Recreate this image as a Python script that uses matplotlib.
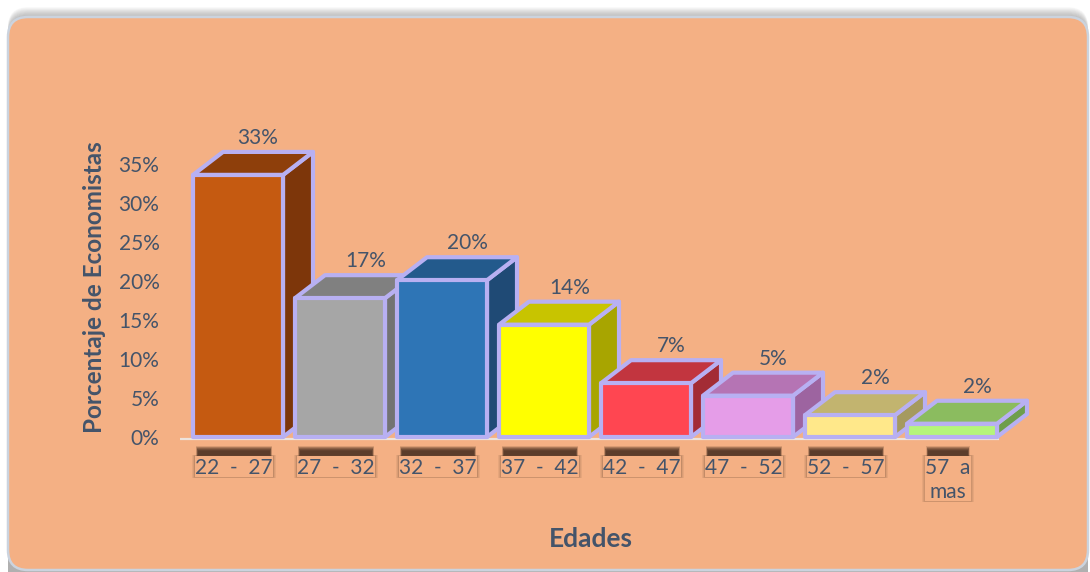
import matplotlib
matplotlib.use("Agg")
import matplotlib.pyplot as plt
from matplotlib.patches import Polygon, Rectangle, FancyBboxPatch

# ---------------- data ----------------
categories = ["22  -  27", "27  -  32", "32  -  37", "37  -  42",
              "42  -  47", "47  -  52", "52  -  57", "57  a\nmas"]
values = [33.6, 17.8, 20.1, 14.4, 6.9, 5.3, 2.8, 1.7]
value_labels = ["33%", "17%", "20%", "14%", "7%", "5%", "2%", "2%"]
yticks = [0, 5, 10, 15, 20, 25, 30, 35]
ytick_labels = ["0%", "5%", "10%", "15%", "20%", "25%", "30%", "35%"]
y_title = "Porcentaje de Economistas"
x_title = "Edades"

front_colors = ["#C55A11", "#A6A6A6", "#2E75B6", "#FFFF00",
                "#FF4651", "#E59DE8", "#FFE88A", "#B5F57A"]
top_colors = ["#8E3F0B", "#808080", "#235A8C", "#C8C400",
              "#C2353F", "#B574B4", "#C2B46F", "#8BBC5F"]
side_colors = ["#7D360A", "#737373", "#1F4A75", "#A8A500",
               "#A32C35", "#9D64A0", "#A59A5F", "#6E9E4C"]

# ---------------- style ----------------
FONT = "Lato"
TXT = "#44546A"
PANEL = "#F4B084"
OUTLINE = "#B8B0F2"
W, H = 1090, 572

fig = plt.figure(figsize=(W / 100, H / 100), dpi=100)
fig.patch.set_facecolor("white")

# background axes in pixel coordinates (origin bottom-left)
bg = fig.add_axes([0, 0, 1, 1])
bg.set_xlim(0, W)
bg.set_ylim(0, H)
bg.axis("off")

# soft shadow above panel
for k in range(14):
    bg.add_patch(FancyBboxPatch((8, -20), 1080, H - 19 + 20 + k * 0.9,
                                boxstyle="round,pad=0,rounding_size=20",
                                fc="#707070", ec="none", alpha=0.05, zorder=0))
# panel
bg.add_patch(FancyBboxPatch((8, 2), 1080, H - 19,
                            boxstyle="round,pad=0,rounding_size=20",
                            fc=PANEL, ec="#CBD3DE", lw=1.8, zorder=1))

# main axes: bar centres at 238 + 102*i px, baseline at y=437 px (from top)
step_px = 102.0
c0 = 238.0
px_per_unit = 7.8
xmin, xmax = -0.6, 7.6
top_px = 100
ax = fig.add_axes([(c0 + xmin * step_px) / W, (H - 437) / H,
                   (xmax - xmin) * step_px / W, (437 - top_px) / H])
ax.set_xlim(xmin, xmax)
ax.set_ylim(0, (437 - top_px) / px_per_unit)
ax.patch.set_alpha(0)
for s in ax.spines.values():
    s.set_visible(False)
ax.set_xticks([])
ax.set_yticks(yticks)
ax.set_yticklabels(ytick_labels)
ax.tick_params(axis="y", length=0, pad=12.5, labelsize=15, labelcolor=TXT)
for t in ax.get_yticklabels():
    t.set_fontfamily(FONT)

sx = 1.0 / step_px      # data units per pixel (x)
sy = 1.0 / px_per_unit  # data units per pixel (y)
bw = 90 * sx
dx = 30 * sx
dy = 23 * sy

# baseline
ax.plot([xmin + 3 * sx, 7 + bw / 2 + 2 * sx], [-2 * sy, -2 * sy],
        color="#EDE3DC", lw=1.6, zorder=1, clip_on=False, solid_capstyle="butt")

lw = 3.0
for i, v in enumerate(values):
    z = 10 + i * 3
    x0, x1 = i - bw / 2, i + bw / 2
    side = Polygon([(x1, 0), (x1 + dx, dy), (x1 + dx, v + dy), (x1, v)],
                   closed=True, fc=side_colors[i], ec=OUTLINE, lw=lw,
                   joinstyle="round", zorder=z, clip_on=False)
    top = Polygon([(x0, v), (x1, v), (x1 + dx, v + dy), (x0 + dx, v + dy)],
                  closed=True, fc=top_colors[i], ec=OUTLINE, lw=lw,
                  joinstyle="round", zorder=z, clip_on=False)
    front = Rectangle((x0, 0), bw, v, fc=front_colors[i], ec=OUTLINE, lw=lw,
                      joinstyle="round", zorder=z + 1, clip_on=False)
    ax.add_patch(side)
    ax.add_patch(top)
    ax.add_patch(front)
    off = 0.19 if i == 0 else 0.25
    ax.text(i + off, v + dy + 14 * sy, value_labels[i], ha="center",
            va="center", fontsize=15, color=TXT, family=FONT, zorder=50)

# category labels
cat_texts = []
for i, c in enumerate(categories):
    t = ax.text(i - 4 * sx, -21 * sy, c, ha="center", va="top", fontsize=15,
                color=TXT, family=FONT, zorder=50, clip_on=False,
                linespacing=1.25)
    cat_texts.append(t)

# axis titles
fig.text(95 / W, 1 - 287 / H, y_title, rotation=90, ha="center", va="center",
         fontsize=17.5, fontweight="bold", color=TXT, family=FONT)
fig.text(591 / W, 1 - 539 / H, x_title, ha="center", va="center",
         fontsize=19, fontweight="bold", color=TXT, family=FONT)

# shadow boxes behind category labels (measured from the rendered text)
fig.canvas.draw()
r = fig.canvas.get_renderer()
for t in cat_texts:
    bb = t.get_window_extent(r)
    lx0, lx1 = bb.x0, bb.x1
    ly0, ly1 = bb.y0 + 1, bb.y1 + 2
    # faint fringe around the box
    for k in range(4):
        g = 0.8 + k * 0.7
        bg.add_patch(Rectangle((lx0 - g, ly0 - g * 0.5),
                               (lx1 - lx0) + 2 * g, (ly1 - ly0) + g,
                               fc="#3A2418", ec="none", alpha=0.07, zorder=5))
    # blurred dark band above the box
    for k in range(10):
        g = k * 0.5
        bg.add_patch(Rectangle((lx0 + 1 + g * 0.4, ly1 - 3 + g),
                               (lx1 - lx0) - 2 - g * 0.8,
                               13 - 2 * g,
                               fc="#3A2418", ec="none", alpha=0.15, zorder=5))
    bg.add_patch(Rectangle((lx0, ly0), lx1 - lx0, ly1 - ly0, fc=PANEL,
                           ec="none", zorder=6))

fig.savefig("out.png", dpi=100, facecolor="white")
